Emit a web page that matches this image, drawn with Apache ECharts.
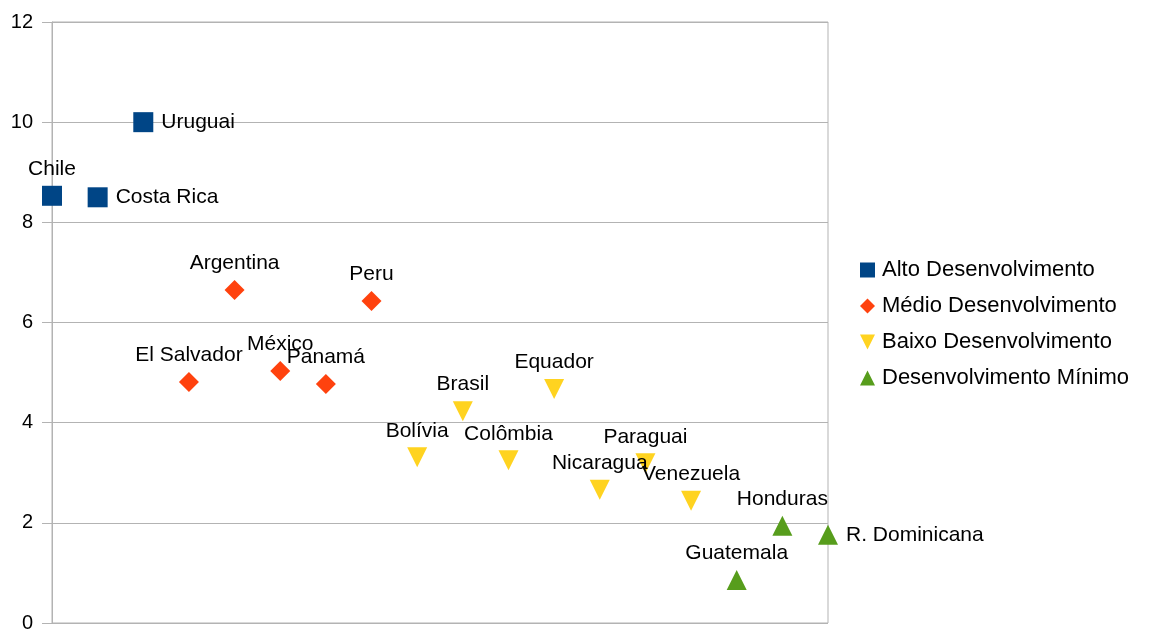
<!DOCTYPE html>
<html lang="pt">
<head>
    <meta charset="UTF-8"/>
    <title>Desenvolvimento - América Latina</title>
    <style>
        html, body {margin: 0; padding: 0; background: #fff;}
        #chart {width: 1160px; height: 630px;}
    </style>
</head>
<body>
<div id="chart"></div>
<script type="text/javascript" src="https://cdn.jsdelivr.net/npm/echarts@6/dist/echarts.min.js"></script>
<script type="text/javascript">
    // paises, na ordem em que aparecem no eixo horizontal
    var altoNomes = ["Chile", "Costa Rica", "Uruguai"];
    var altoValores = [8.53, 8.5, 10.0];
    var medioNomes = ["El Salvador", "Argentina", "México", "Panamá", "Peru"];
    var medioValores = [4.81, 6.65, 5.03, 4.77, 6.43];
    var baixoNomes = ["Bolívia", "Brasil", "Colômbia", "Equador", "Nicaragua", "Paraguai", "Venezuela"];
    var baixoValores = [3.31, 4.23, 3.25, 4.67, 2.66, 3.19, 2.44];
    var minimoNomes = ["Guatemala", "Honduras", "R. Dominicana"];
    var minimoValores = [0.86, 1.94, 1.76];
    var rotuloDireita = ["Costa Rica", "Uruguai", "R. Dominicana"];
    var yTicks = [0, 2, 4, 6, 8, 10, 12];

    var fonte = "'Liberation Sans', Arial, sans-serif";
    var trianguloBaixo = "path://M0,0L10,0L5,10Z";

    var pos = 0;
    function pontos(nomes, valores) {
        var out = [];
        for (var i = 0; i < nomes.length; i++) {
            var p = {name: nomes[i], value: [pos, valores[i]]};
            if (rotuloDireita.indexOf(nomes[i]) >= 0) {
                p.label = {position: "right", distance: 8};
            }
            out.push(p);
            pos++;
        }
        return out;
    }

    function serie(nome, nomes, valores, cor, simbolo, tamanho) {
        return {
            name: nome,
            type: "scatter",
            symbol: simbolo,
            symbolSize: tamanho,
            clip: false,
            itemStyle: {color: cor, opacity: 1},
            label: {
                show: true,
                position: "top",
                distance: 6,
                formatter: "{b}",
                color: "#000",
                fontSize: 21,
                fontFamily: fonte
            },
            emphasis: {disabled: true},
            data: pontos(nomes, valores)
        };
    }

    var series = [
        serie("Alto Desenvolvimento", altoNomes, altoValores, "#004586", "rect", 20),
        serie("Médio Desenvolvimento", medioNomes, medioValores, "#ff420e", "diamond", 20),
        serie("Baixo Desenvolvimento", baixoNomes, baixoValores, "#ffd320", trianguloBaixo, 20),
        serie("Desenvolvimento Mínimo", minimoNomes, minimoValores, "#579d1c", "triangle", 20)
    ];

    var chart = echarts.init(document.getElementById("chart"));
    chart.setOption({
        animation: false,
        textStyle: {fontFamily: fonte},
        grid: {
            left: 52,
            right: 332,
            top: 22,
            bottom: 7,
            outerBoundsMode: "none",
            containLabel: false,
            show: true,
            borderColor: "#b3b3b3",
            borderWidth: 1
        },
        legend: {
            orient: "vertical",
            left: 855,
            top: 254,
            itemWidth: 15,
            itemHeight: 15,
            itemGap: 14,
            textStyle: {fontSize: 22, color: "#000", fontFamily: fonte, padding: [0, 0, 0, 2]},
            data: [
                {name: "Alto Desenvolvimento", icon: "rect"},
                {name: "Médio Desenvolvimento", icon: "diamond"},
                {name: "Baixo Desenvolvimento", icon: trianguloBaixo},
                {name: "Desenvolvimento Mínimo", icon: "triangle"}
            ]
        },
        xAxis: {
            type: "value",
            min: 0,
            max: pos - 1,
            axisLine: {show: false},
            axisTick: {show: false},
            axisLabel: {show: false},
            splitLine: {show: false}
        },
        yAxis: {
            type: "value",
            min: yTicks[0],
            max: yTicks[yTicks.length - 1],
            interval: 2,
            axisLine: {show: true, lineStyle: {color: "#b3b3b3"}},
            axisTick: {show: true, length: 10, lineStyle: {color: "#b3b3b3"}},
            axisLabel: {margin: 19, fontSize: 20, color: "#000", fontFamily: fonte},
            splitLine: {show: true, lineStyle: {color: "#b3b3b3"}}
        },
        series: series
    });
</script>
</body>
</html>
